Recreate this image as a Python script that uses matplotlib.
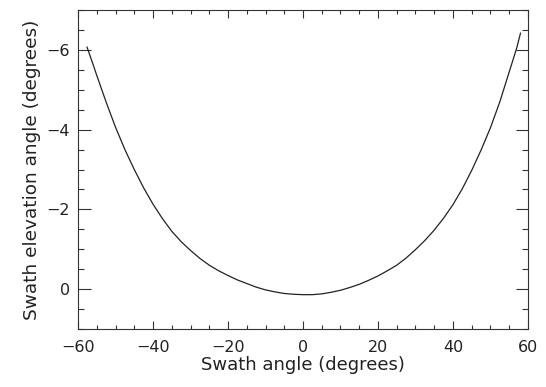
import matplotlib
matplotlib.use("Agg")
import matplotlib.pyplot as plt
from matplotlib.ticker import MultipleLocator

# swath angle vs elevation angle of the swath (degrees)
swath_angle = [-57.6, -56, -55, -52.5, -50, -47.5, -45, -42.5, -40, -37.5, -35,
               -32.5, -30, -27.5, -25, -22.5, -20, -17.5, -15, -12.5, -10, -7.5,
               -5, -2.5, 0, 2.5, 5, 7.5, 10, 12.5, 15, 17.5, 20, 22.5, 25, 27.5,
               30, 32.5, 35, 37.5, 40, 42.5, 45, 47.5, 50, 52.5, 55, 57, 58]
elevation = [-6.07, -5.64, -5.36, -4.69, -4.06, -3.50, -3.00, -2.54, -2.13, -1.77,
             -1.45, -1.19, -0.97, -0.77, -0.60, -0.46, -0.34, -0.23, -0.14, -0.05,
             0.02, 0.07, 0.11, 0.13, 0.14, 0.14, 0.12, 0.08, 0.03, -0.04, -0.12,
             -0.22, -0.33, -0.46, -0.60, -0.78, -0.99, -1.22, -1.48, -1.78, -2.12,
             -2.52, -2.98, -3.49, -4.05, -4.70, -5.45, -6.05, -6.42]

plt.rcParams['font.family'] = 'DejaVu Sans'
plt.rcParams['font.size'] = 11.5

fig = plt.figure(figsize=(5.46, 3.87), dpi=100)
ax = fig.add_axes([0.1429, 0.150, 0.8241, 0.824])

ax.plot(swath_angle, elevation, color='#222222', linewidth=0.9)

ax.set_xlim(-60, 60)
ax.set_ylim(1, -7)
ax.xaxis.set_major_locator(MultipleLocator(20))
ax.xaxis.set_minor_locator(MultipleLocator(5))
ax.yaxis.set_major_locator(MultipleLocator(2))
ax.yaxis.set_minor_locator(MultipleLocator(0.5))

ax.tick_params(which='both', direction='in', top=True, right=True,
               color='#333333', width=0.8, labelcolor='#222222')
ax.tick_params(axis='x', which='major', length=6, pad=8)
ax.tick_params(axis='x', which='minor', length=3)
ax.tick_params(axis='y', which='major', length=9, pad=6)
ax.tick_params(axis='y', which='minor', length=4)
for s in ax.spines.values():
    s.set_color('#333333')
    s.set_linewidth(0.8)

ax.set_xlabel("Swath angle (degrees)", color='#222222', fontsize=13, labelpad=1)
ax.set_ylabel("Swath elevation angle (degrees)", color='#222222', fontsize=13.3,
              labelpad=4)

fig.savefig("out.png", dpi=100)
